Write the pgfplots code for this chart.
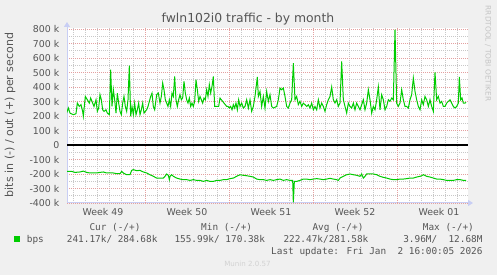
\documentclass[border=0pt]{standalone}
\usepackage{pgfplots}
\pgfplotsset{compat=1.18}
\usetikzlibrary{arrows.meta}
\usepackage{fontspec}
\setmainfont{DejaVu Sans}
\newfontfamily\monofont{DejaVu Sans Mono}
\definecolor{bgcol}{HTML}{F0F0F0}
\definecolor{txt}{HTML}{555555}
\definecolor{axiscol}{HTML}{C8CEF4}
\definecolor{mgrid}{HTML}{E4A0A0}
\definecolor{ngrid}{HTML}{C8C8C8}
\definecolor{lgreen}{HTML}{00CC00}
\definecolor{wmark}{HTML}{C4C4C4}
\definecolor{munin}{HTML}{D2D2D2}
\newcommand{\sm}{\fontsize{9.4}{11}\selectfont}
\begin{document}
\begin{tikzpicture}[x=1pt,y=1pt]
\fill[bgcol] (0,0) rectangle (497,275);
\begin{axis}[
  at={(67pt,72pt)}, anchor=south west,
  scale only axis, width=401pt, height=175pt,
  xmin=18, xmax=1221, ymin=-400, ymax=807,
  axis background/.style={fill=white},
  axis lines=left,
  axis line style={draw=axiscol, line width=1pt},
  x axis line style={-{Triangle[length=5pt,width=6pt]}, shorten >=-5pt},
  y axis line style={-{Triangle[length=5pt,width=6pt]}, shorten >=-6pt},
  major tick length=0pt, minor tick length=0pt,
  xtick={126,378,630,882,1134},
  xticklabels={Week 49,Week 50,Week 51,Week 52,Week 01},
  xticklabel style={anchor=base, yshift=-12.3pt, inner sep=0pt, font=\sm, text=txt},
  minor xtick={36,72,108,144,180,216,288,324,360,396,432,468,540,576,612,648,684,720,792,828,864,900,936,972,1044,1080,1116,1152,1188},
  extra x ticks={252,504,756,1008},
  extra x tick labels={},
  extra x tick style={xmajorgrids=true},
  ytick={-400,-300,-200,-100,0,100,200,300,400,500,600,700,800},
  yticklabels={-400 k,-300 k,-200 k,-100 k,0,100 k,200 k,300 k,400 k,500 k,600 k,700 k,800 k},
  minor ytick={-350,-250,-150,-50,50,150,250,350,450,550,650,750},
  yticklabel style={anchor=east, xshift=-7.5pt, inner sep=0pt, font=\sm, text=txt},
  xmajorgrids=false, ymajorgrids=true, xminorgrids=true, yminorgrids=true,
  major grid style={draw=mgrid, line width=0.8pt, dash pattern=on 1pt off 1pt},
  minor grid style={draw=ngrid, line width=0.8pt, dash pattern=on 1pt off 1pt},
]
\addplot[black, line width=1.2pt] coordinates {(18,0) (1221,0)};
% out (+)
\addplot[lgreen, line width=1pt] coordinates {
(17,220)(22,255)(27,220)(37,209)(45,216)(49,289)(55,266)(60,278)(65,232)(67,198)
(73,335)(79,312)(85,289)(89,324)(95,289)(99,266)(105,312)(109,232)(113,255)(117,347)
(121,312)(125,243)(129,232)(135,243)(139,220)(145,209)(149,519)(153,266)(157,381)(161,312)
(165,220)(169,358)(173,289)(177,232)(181,209)(185,289)(189,335)(193,266)(197,232)(201,312)
(205,547)(209,198)(213,266)(217,209)(221,289)(225,209)(229,243)(233,289)(237,209)(241,243)
(245,289)(249,220)(253,232)(257,243)(261,266)(269,335)(273,358)(277,266)(281,243)(287,347)
(292,358)(297,289)(301,335)(305,427)(309,381)(313,312)(317,289)(321,266)(325,312)(329,266)
(333,358)(337,335)(341,473)(345,312)(349,266)(353,312)(357,347)(361,312)(365,324)(369,439)
(373,358)(377,312)(381,289)(385,324)(389,266)(393,289)(397,266)(401,301)(405,450)(409,381)
(413,301)(417,335)(421,312)(425,289)(429,324)(433,312)(437,381)(441,335)(445,416)(449,358)
(453,404)(457,473)(461,266)(465,266)(469,266)(473,266)(477,324)(481,312)(485,301)(489,289)
(493,278)(497,266)(501,266)(505,255)(509,266)(513,243)(517,278)(521,255)(525,289)(529,243)
(533,312)(537,266)(542,289)(547,255)(552,266)(557,312)(562,255)(567,312)(572,232)(577,266)
(582,335)(589,469)(592,335)(597,370)(602,266)(607,335)(612,255)(617,370)(622,301)(627,347)
(632,266)(637,255)(647,266)(652,312)(657,393)(662,381)(667,393)(672,335)(677,266)(682,255)
(687,289)(692,312)(697,565)(702,312)(707,335)(712,278)(717,301)(722,266)(727,289)(732,278)
(737,266)(742,278)(747,255)(752,289)(757,243)(762,266)(767,243)(772,312)(777,255)(782,289)
(787,266)(792,232)(797,278)(802,312)(807,335)(812,400)(817,312)(822,289)(827,312)(832,266)
(837,289)(842,577)(847,312)(852,266)(857,220)(862,289)(867,266)(872,255)(877,289)(882,243)
(887,289)(892,266)(897,243)(902,278)(907,312)(912,243)(917,289)(922,381)(927,312)(932,220)
(937,266)(942,243)(947,312)(952,400)(957,243)(962,347)(967,312)(972,243)(977,266)(982,312)
(987,301)(992,324)(997,312)(1002,795)(1007,289)(1012,266)(1017,289)(1022,381)(1027,312)(1032,266)
(1037,266)(1042,255)(1047,312)(1052,347)(1057,462)(1062,370)(1067,312)(1072,266)(1077,243)(1082,312)
(1087,278)(1092,335)(1097,312)(1102,266)(1107,312)(1112,266)(1117,232)(1122,501)(1127,312)(1132,335)
(1137,289)(1142,301)(1147,266)(1152,266)(1157,289)(1162,301)(1167,312)(1172,289)(1177,266)(1182,255)
(1187,266)(1192,289)(1195,469)(1199,312)(1203,324)(1207,289)(1212,289)(1215,294)
};
% in (-)
\addplot[lgreen, line width=1pt] coordinates {
(17,-182)(32,-182)(42,-189)(57,-186)(67,-180)(77,-189)(87,-193)(97,-193)(107,-193)(117,-189)
(127,-186)(137,-193)(147,-193)(157,-193)(167,-198)(177,-198)(182,-182)(187,-193)(197,-205)(207,-205)
(212,-175)(217,-170)(227,-177)(237,-175)(247,-186)(257,-193)(267,-205)(277,-216)(287,-228)(297,-228)
(307,-228)(312,-216)(317,-200)(322,-209)(325,-239)(327,-216)(332,-205)(337,-216)(347,-228)(357,-235)
(367,-239)(377,-239)(387,-244)(397,-239)(407,-244)(417,-244)(427,-251)(437,-244)(447,-251)(457,-251)
(467,-244)(477,-244)(487,-239)(497,-239)(507,-232)(517,-228)(527,-216)(537,-205)(547,-209)(557,-212)
(567,-216)(577,-221)(587,-235)(597,-239)(607,-239)(617,-244)(627,-239)(637,-244)(647,-239)(657,-235)
(667,-244)(677,-239)(687,-244)(695,-244)(697,-396)(700,-251)(707,-251)(717,-244)(727,-235)(737,-235)
(747,-239)(757,-235)(767,-232)(777,-235)(787,-239)(797,-235)(807,-230)(817,-235)(827,-239)(832,-244)
(837,-228)(847,-216)(857,-205)(867,-200)(877,-205)(887,-209)(897,-216)(902,-200)(907,-228)(912,-216)
(917,-200)(927,-200)(937,-200)(947,-205)(957,-216)(967,-223)(977,-228)(987,-235)(997,-239)(1007,-239)
(1017,-235)(1027,-235)(1037,-232)(1047,-228)(1057,-228)(1067,-221)(1077,-216)(1082,-212)(1087,-205)(1097,-216)
(1107,-221)(1117,-228)(1127,-235)(1137,-235)(1147,-239)(1157,-244)(1167,-244)(1177,-244)(1187,-239)(1197,-239)
(1207,-244)(1215,-244)
};
\end{axis}
% title
\node[anchor=base, text=txt, font=\fontsize{12.4}{14}\selectfont, inner sep=0pt] at (248,252) {fwln102i0 traffic - by month};
% y label
\node[rotate=90, text=txt, font=\fontsize{11}{13}\selectfont, inner sep=0pt] at (10,160) {bits in (-) / out (+) per second};
% watermark
\node[rotate=-90, text=wmark, font=\fontsize{7.4}{9}\selectfont, inner sep=0pt] at (488,221.5) {RRDTOOL / TOBI OETIKER};
% legend
\begin{scope}[every node/.style={inner sep=0pt, text=txt, font=\monofont\fontsize{9.4}{11}\selectfont}]
\node[anchor=base west] at (89.3,44) {Cur (-/+)};
\node[anchor=base west] at (201,44) {Min (-/+)};
\node[anchor=base west] at (312.3,44) {Avg (-/+)};
\node[anchor=base west] at (422.7,44) {Max (-/+)};
\fill[lgreen] (14,33) rectangle (19.5,38.5);
\node[anchor=base west] at (26.7,32.3) {bps};
\node[anchor=base west] at (66.7,32.3) {241.17k/ 284.68k};
\node[anchor=base west] at (174.3,32.3) {155.99k/ 170.38k};
\node[anchor=base west] at (283.3,32.3) {222.47k/281.58k};
\node[anchor=base east] at (482.7,32.3) {3.96M/\ \ 12.68M};
\node[anchor=base east] at (482.7,20.7) {Last update: Fri Jan\ \ 2 16:00:05 2026};
\end{scope}
\node[anchor=base, inner sep=0pt, text=munin, font=\fontsize{7.1}{9}\selectfont] at (247.5,8.3) {Munin 2.0.57};
\pgfresetboundingbox
\path[use as bounding box] (0,0) rectangle (497,275);
\end{tikzpicture}
\end{document}
